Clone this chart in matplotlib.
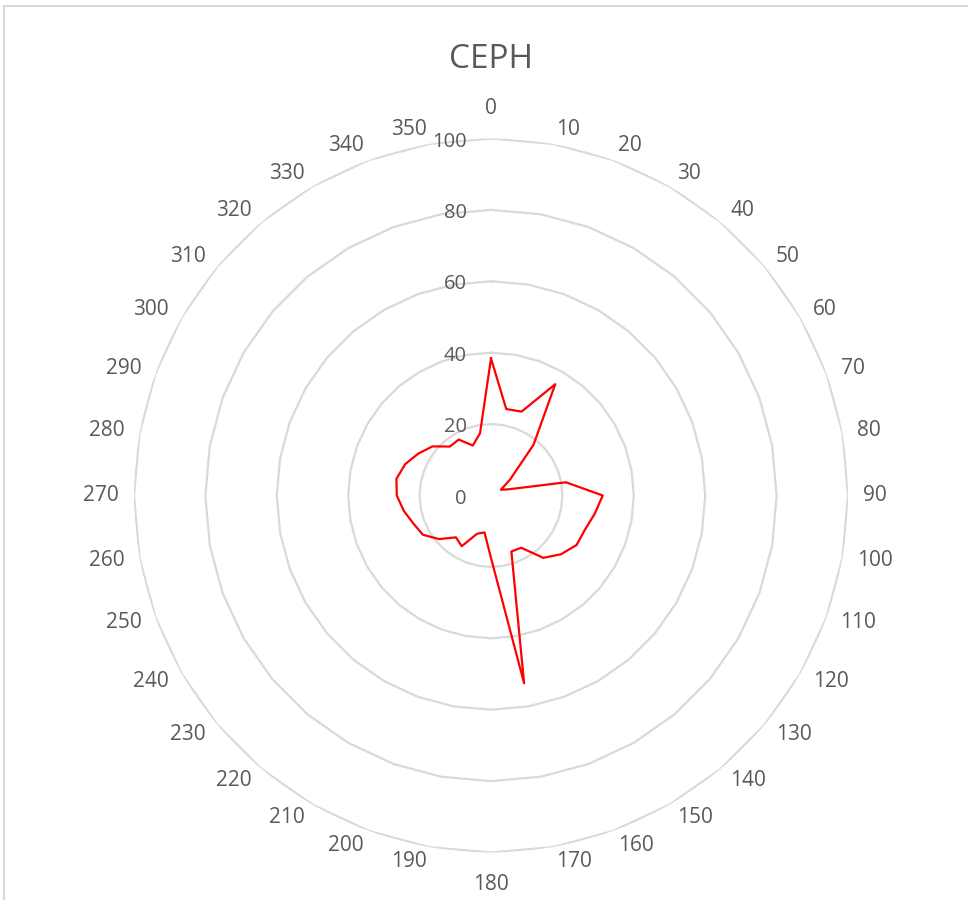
import numpy as np
import matplotlib
matplotlib.use("Agg")
import matplotlib.pyplot as plt
from matplotlib.lines import Line2D

plt.rcParams['font.family'] = ['Open Sans', 'DejaVu Sans']

# data
categories = [str(a) for a in range(0, 360, 10)]
values = [38.4, 24.6, 25.0, 36.0, 18.5, 7.0, 3.2, 5.0, 21.3, 31.3,
          29.5, 28.0, 27.7, 25.6, 22.8, 16.9, 16.7, 53.4, 17.5, 10.5,
          11.4, 16.4, 15.3, 19.0, 22.0, 23.1, 24.8, 26.4, 26.9, 25.6,
          23.5, 21.4, 17.9, 18.1, 14.9, 17.7]
rings = [20, 40, 60, 80, 100]
ring_labels = ["0", "20", "40", "60", "80", "100"]

txt = "#595959"
grid = "#d9d9d9"

fig = plt.figure(figsize=(9.68, 9.0), dpi=100)
cx, cy, rad = 491 / 968, (900 - 495.5) / 900, 357
ax = fig.add_axes([cx - rad / 968, cy - rad / 900, 2 * rad / 968, 2 * rad / 900],
                  projection="polar")
ax.set_theta_zero_location("N")
ax.set_theta_direction(-1)
ax.set_ylim(0, 100)
ax.grid(False)
ax.spines["polar"].set_visible(False)
ax.set_xticks([])
ax.set_yticks([])
ax.patch.set_alpha(0)

deg = np.arange(0, 360, 10)
theta = np.deg2rad(deg)
theta_c = np.append(theta, theta[0])

# polygon gridlines
for r in rings:
    ax.plot(theta_c, [r] * len(theta_c), color=grid, lw=1.6, zorder=1)

# series
vals = values + values[:1]
ax.plot(theta_c, vals, color="#ff0000", lw=1.6, zorder=3)

# category labels, aligned like Excel: outside edge touches a circle
for d, t, lab in zip(deg, theta, categories):
    if d == 0:
        ax.text(t, 105.5, lab, ha="center", va="bottom", fontsize=15,
                color=txt, clip_on=False)
    elif d == 180:
        ax.text(t, 106.0, lab, ha="center", va="top", fontsize=15,
                color=txt, clip_on=False)
    elif d < 180:
        ax.text(t, 104.2, lab, ha="left", va="center", fontsize=15,
                color=txt, clip_on=False)
    else:
        ax.text(t, 104.2, lab, ha="right", va="center", fontsize=15,
                color=txt, clip_on=False)

# radial value labels
for i, lab in enumerate(ring_labels):
    ax.annotate(lab, xy=(0, i * 20), xytext=(-24, -3), textcoords="offset pixels",
                ha="right", va="center", fontsize=14.5, color=txt,
                annotation_clip=False)

fig.text(491 / 968, 1 - 60 / 900, "CEPH", ha="center", va="center",
         fontsize=24, color=txt)

# chart border (top and left visible)
fig.add_artist(Line2D([4 / 968, 1], [1 - 6 / 900, 1 - 6 / 900],
                      transform=fig.transFigure, color=grid, lw=1.5))
fig.add_artist(Line2D([4 / 968, 4 / 968], [0, 1 - 6 / 900],
                      transform=fig.transFigure, color=grid, lw=1.5))

fig.savefig("out.png", dpi=100)
